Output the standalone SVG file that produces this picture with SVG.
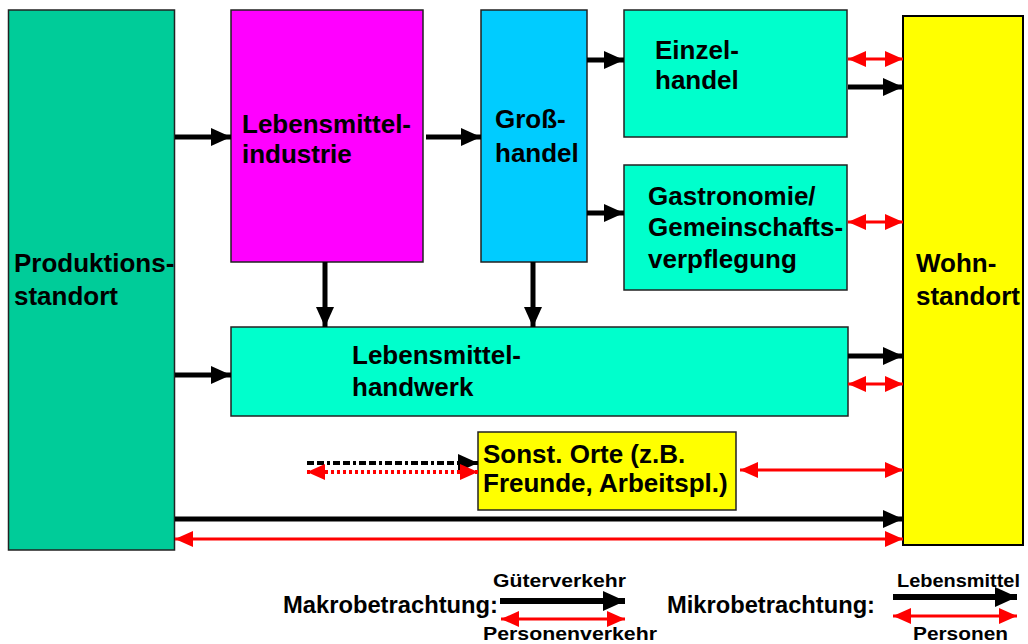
<svg xmlns="http://www.w3.org/2000/svg" width="1028" height="644" viewBox="0 0 1028 644">
<style>
  .box { stroke: #222; stroke-width: 1.5; }
  .t { font-family: "Liberation Sans", Arial, sans-serif; font-weight: bold; font-size: 26px; fill: #000; }
  .lg { font-family: "Liberation Sans", Arial, sans-serif; font-weight: bold; font-size: 24px; fill: #000; }
  .ls { font-family: "Liberation Sans", Arial, sans-serif; font-weight: bold; font-size: 19px; fill: #000; }
  .blk { stroke: #000; stroke-width: 5; fill: none; marker-end: url(#hb); }
  .red { stroke: #ff0000; stroke-width: 3; fill: none; marker-start: url(#hr); marker-end: url(#hr); }
</style>
<defs>
  <marker id="hb" markerUnits="userSpaceOnUse" markerWidth="20" markerHeight="18" refX="20" refY="9" orient="auto">
    <path d="M0,0 L20,9 L0,18 z" fill="#000"/>
  </marker>
  <marker id="hr" markerUnits="userSpaceOnUse" markerWidth="18" markerHeight="16" refX="18" refY="8" orient="auto-start-reverse">
    <path d="M0,0 L18,8 L0,16 z" fill="#ff0000"/>
  </marker>
  <marker id="hbL" markerUnits="userSpaceOnUse" markerWidth="22" markerHeight="20" refX="22" refY="10" orient="auto">
    <path d="M0,0 L22,10 L0,20 z" fill="#000"/>
  </marker>
</defs>
<rect width="1028" height="644" fill="#fff"/>

<g id="produktionsstandort">
  <rect class="box" x="8.5" y="10" width="166" height="540" fill="#00cc99"/>
  <text class="t" x="14" y="272">Produktions-</text>
  <text class="t" x="14" y="305">standort</text>
</g>
<g id="lebensmittelindustrie">
  <rect class="box" x="231" y="10" width="192" height="252" fill="#ff00ff"/>
  <text class="t" x="242" y="133">Lebensmittel-</text>
  <text class="t" x="242" y="163">industrie</text>
</g>
<g id="grosshandel">
  <rect class="box" x="481" y="10" width="106" height="252" fill="#00ccff"/>
  <text class="t" x="495" y="128">Groß-</text>
  <text class="t" x="495" y="162">handel</text>
</g>
<g id="einzelhandel">
  <rect class="box" x="624" y="10" width="223" height="127" fill="#00ffcc"/>
  <text class="t" x="655" y="59">Einzel-</text>
  <text class="t" x="655" y="89">handel</text>
</g>
<g id="gastronomie">
  <rect class="box" x="624" y="165" width="223" height="125" fill="#00ffcc"/>
  <text class="t" x="648" y="205">Gastronomie/</text>
  <text class="t" x="648" y="236">Gemeinschafts-</text>
  <text class="t" x="648" y="268">verpflegung</text>
</g>
<g id="wohnstandort">
  <rect x="903" y="16" width="120" height="529" fill="#ffff00" stroke="#000" stroke-width="2"/>
  <text class="t" x="916" y="272">Wohn-</text>
  <text class="t" x="916" y="305">standort</text>
</g>
<g id="lebensmittelhandwerk">
  <rect class="box" x="231" y="327" width="617" height="89" fill="#00ffcc"/>
  <text class="t" x="352" y="364">Lebensmittel-</text>
  <text class="t" x="352" y="396">handwerk</text>
</g>
<g id="sonstigeorte">
  <rect class="box" x="478" y="432" width="258" height="78" fill="#ffff00"/>
  <text class="t" x="483" y="463">Sonst. Orte (z.B.</text>
  <text class="t" x="483" y="492">Freunde, Arbeitspl.)</text>
</g>

<g id="connectors">
  <line class="blk" x1="175" y1="137" x2="231" y2="137"/>
  <line class="blk" x1="426" y1="137" x2="481" y2="137"/>
  <line class="blk" x1="587" y1="60" x2="624" y2="60"/>
  <line class="blk" x1="587" y1="213" x2="624" y2="213"/>
  <line class="red" x1="848" y1="59" x2="903" y2="59"/>
  <line class="blk" x1="848" y1="87" x2="903" y2="87"/>
  <line class="red" x1="848" y1="222" x2="903" y2="222"/>
  <line class="blk" x1="848" y1="356" x2="903" y2="356"/>
  <line class="red" x1="848" y1="384" x2="903" y2="384"/>
  <line class="blk" x1="325" y1="262" x2="325" y2="327"/>
  <line class="blk" x1="533" y1="262" x2="533" y2="327"/>
  <line class="blk" x1="175" y1="375" x2="231" y2="375"/>
  <line x1="307" y1="463" x2="478" y2="463" stroke="#000" stroke-width="4" stroke-dasharray="7 3 7 3 3 3" marker-end="url(#hb)"/>
  <line x1="307" y1="472" x2="478" y2="472" stroke="#ff0000" stroke-width="4" stroke-dasharray="3 3" marker-start="url(#hr)" marker-end="url(#hr)"/>
  <line class="red" x1="740" y1="470" x2="903" y2="470"/>
  <line class="blk" x1="175" y1="519" x2="903" y2="519"/>
  <line class="red" x1="175" y1="539" x2="903" y2="539"/>
</g>

<g id="legende">
  <text class="lg" x="283" y="613" textLength="215" lengthAdjust="spacingAndGlyphs">Makrobetrachtung:</text>
  <text class="ls" x="493" y="587" textLength="133" lengthAdjust="spacingAndGlyphs">Güterverkehr</text>
  <line x1="500" y1="601" x2="625" y2="601" stroke="#000" stroke-width="6" marker-end="url(#hbL)"/>
  <line class="red" x1="501" y1="619" x2="625" y2="619"/>
  <text class="ls" x="483" y="640" textLength="174" lengthAdjust="spacingAndGlyphs">Personenverkehr</text>
  <text class="lg" x="667" y="613" textLength="208" lengthAdjust="spacingAndGlyphs">Mikrobetrachtung:</text>
  <text class="ls" x="897" y="587" textLength="123" lengthAdjust="spacingAndGlyphs">Lebensmittel</text>
  <line x1="893" y1="597" x2="1017" y2="597" stroke="#000" stroke-width="6" marker-end="url(#hbL)"/>
  <line class="red" x1="893" y1="616" x2="1017" y2="616"/>
  <text class="ls" x="913" y="640" textLength="95" lengthAdjust="spacingAndGlyphs">Personen</text>
</g>
</svg>
